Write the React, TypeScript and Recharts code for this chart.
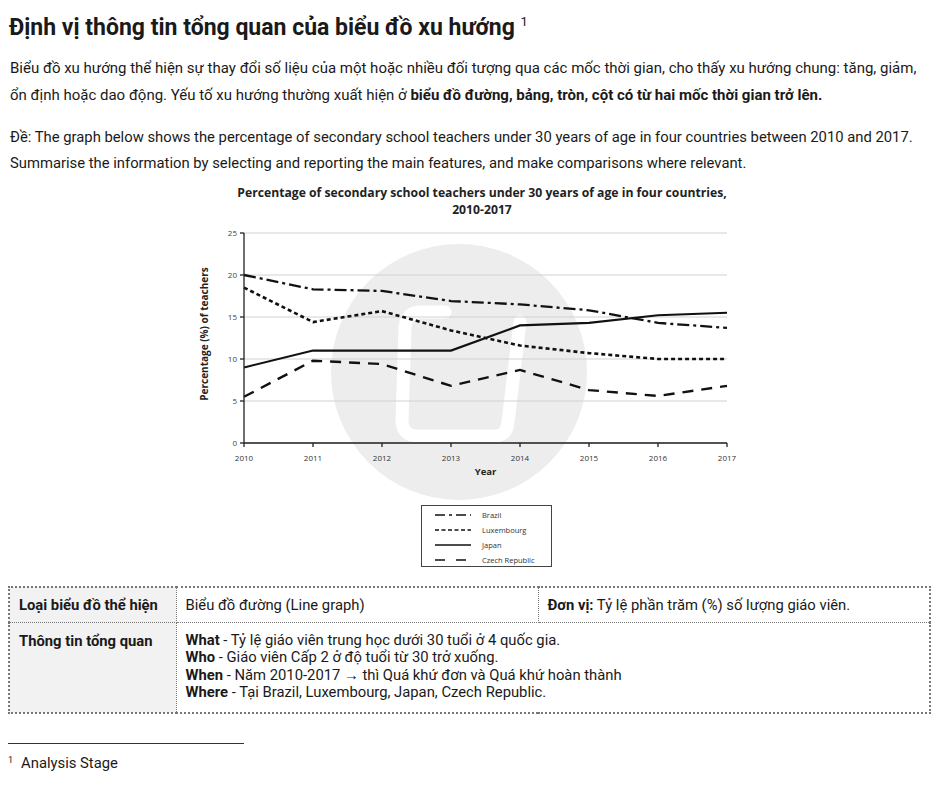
import React from 'react'
import {
  LineChart,
  Line,
  XAxis,
  YAxis,
  CartesianGrid,
  Legend
} from 'recharts'

// years and values
const years = ['2010', '2011', '2012', '2013', '2014', '2015', '2016', '2017']
const brazil = [20, 18.3, 18.1, 16.9, 16.5, 15.8, 14.3, 13.7]
const luxembourg = [18.5, 14.4, 15.7, 13.4, 11.6, 10.7, 10, 10]
const japan = [9, 11, 11, 11, 14, 14.3, 15.2, 15.5]
const czech = [5.5, 9.8, 9.4, 6.8, 8.7, 6.3, 5.6, 6.8]
const yTicks = [0, 5, 10, 15, 20, 25]

const seriesNames = ['Brazil', 'Luxembourg', 'Japan', 'Czech Republic']
const seriesValues = [brazil, luxembourg, japan, czech]
const dashes = ['12 4 3 4', '4 3', '0', '11 8']
const widths = [2.3, 2.6, 2.1, 2.4]

const data = years.map((year, i) => {
  const row: any = { year }
  seriesNames.forEach((name, s) => {
    row[name] = seriesValues[s][i]
  })
  return row
})

const chartFont = "'Open Sans', 'DejaVu Sans', sans-serif"

const LegendBox = () => (
  <div
    style={{
      border: '1px solid #444',
      width: 131,
      height: 62,
      boxSizing: 'border-box',
      padding: '1px 0 0 13px',
      background: '#fff',
      fontFamily: chartFont,
      fontSize: 7.5,
      color: '#333'
    }}
  >
    {seriesNames.map((name, i) => (
      <div key={name} style={{ display: 'flex', alignItems: 'center', height: 15.2 }}>
        <svg width={36} height={6}>
          <line
            x1={0}
            y1={3}
            x2={36}
            y2={3}
            stroke='#111'
            strokeWidth={i === 2 ? 1.3 : 1.6}
            strokeDasharray={i === 0 ? '10 4 3 4' : i === 1 ? '4 2.5' : i === 3 ? '10 11' : undefined}
          />
        </svg>
        <span style={{ marginLeft: 11 }}>{name}</span>
      </div>
    ))}
  </div>
)

const YLabel = (props: any) => {
  const vb = props.viewBox
  const x = 24
  const y = vb.y + vb.height / 2 - 4
  return (
    <text
      x={x}
      y={y}
      transform={`rotate(-90 ${x} ${y})`}
      textAnchor='middle'
      dominantBaseline='central'
      style={{ fontFamily: chartFont, fontSize: 10, fontWeight: 700, fill: '#222' }}
    >
      Percentage (%) of teachers
    </text>
  )
}

const cell = { border: '1px dotted #777', padding: '0 0 0 9px' }
const chartTitle = { position: 'absolute' as const, left: 182, width: 600, textAlign: 'center' as const, fontFamily: chartFont, fontSize: 12.2, fontWeight: 700, lineHeight: '14px', color: '#222', whiteSpace: 'nowrap' as const }

export default function App () {
  return (
    <div
      style={{
        position: 'absolute',
        left: 0,
        top: 0,
        width: 938,
        height: 791,
        background: '#fff',
        fontFamily: "Roboto, 'Noto Sans', sans-serif",
        color: '#1a1a1a',
        overflow: 'hidden'
      }}
    >
      <div style={{ position: 'absolute', left: 9, top: 6, fontSize: 23, fontWeight: 700, whiteSpace: 'nowrap', lineHeight: '32px' }}>
        Định vị thông tin tổng quan của biểu đồ xu hướng{' '}
        <sup style={{ fontSize: 13, fontWeight: 400, verticalAlign: 9 }}>1</sup>
      </div>

      <div style={{ position: 'absolute', left: 10, top: 55, fontSize: 15, lineHeight: '27px', whiteSpace: 'nowrap' }}>
        Biểu đồ xu hướng thể hiện sự thay đổi số liệu của một hoặc nhiều đối tượng qua các mốc thời gian, cho thấy xu hướng chung: tăng, giảm,
        <br />
        ổn định hoặc dao động. Yếu tố xu hướng thường xuất hiện ở{' '}
        <b>biểu đồ đường, bảng, tròn, cột có từ hai mốc thời gian trở lên.</b>
      </div>

      <div style={{ position: 'absolute', left: 10, top: 124, fontSize: 14.8, lineHeight: '26px', whiteSpace: 'nowrap' }}>
        Đề: The graph below shows the percentage of secondary school teachers under 30 years of age in four countries between 2010 and 2017.
        <br />
        Summarise the information by selecting and reporting the main features, and make comparisons where relevant.
      </div>

      {/* watermark behind the chart */}
      <svg style={{ position: 'absolute', left: 0, top: 0 }} width={938} height={791}>
        <circle cx={459} cy={372} r={128} fill='#ededed' />
        <path
          d='M 445 312 L 420 312 Q 406 312 405 328 L 402 420 Q 402 436 418 436 L 494 436 Q 507 436 508 422 L 520 322'
          fill='none'
          stroke='#fff'
          strokeWidth={13}
          strokeLinecap='round'
          strokeLinejoin='round'
        />
      </svg>

      <div style={{ ...chartTitle, top: 186 }}>
        Percentage of secondary school teachers under 30 years of age in four countries,
      </div>
      <div style={{ ...chartTitle, top: 203 }}>2010-2017</div>

      <div style={{ position: 'absolute', left: 180, top: 220 }}>
        <LineChart
          width={560}
          height={400}
          data={data}
          margin={{ top: 13, right: 13, bottom: 147, left: 14 }}
        >
          <CartesianGrid vertical={false} stroke='#d2d2d2' strokeWidth={1.2} />
          <XAxis
            dataKey='year'
            stroke='#222'
            strokeWidth={1.3}
            tickSize={4}
            tickMargin={8}
            height={30}
            tick={{ fontSize: 8, fill: '#333', fontFamily: chartFont }}
            label={{ value: 'Year', position: 'insideBottom', offset: -2, style: { fontSize: 9.5, fontWeight: 700, fill: '#222', fontFamily: chartFont } }}
          />
          <YAxis
            domain={[0, 25]}
            ticks={yTicks}
            width={50}
            stroke='#222'
            strokeWidth={1.3}
            tickSize={4}
            tickMargin={3}
            tick={{ fontSize: 8, fill: '#444', fontFamily: chartFont }}
            label={<YLabel />}
          />
          <Legend
            layout='horizontal'
            verticalAlign='middle'
            align='center'
            content={<LegendBox />}
            wrapperStyle={{ top: 285, left: 241, width: 131, height: 62 }}
          />
          {seriesNames.map((name, i) => (
            <Line
              key={name}
              dataKey={name}
              stroke='#111'
              strokeWidth={widths[i]}
              strokeDasharray={dashes[i] === '0' ? undefined : dashes[i]}
              dot={false}
              activeDot={false}
              isAnimationActive={false}
            />
          ))}
        </LineChart>
      </div>

      <table
        style={{
          position: 'absolute',
          left: 8,
          top: 586,
          width: 923,
          tableLayout: 'fixed',
          borderCollapse: 'collapse',
          fontSize: 14.8,
          border: '2px dotted #777'
        }}
      >
        <colgroup>
          <col style={{ width: 167 }} />
          <col style={{ width: 362 }} />
          <col />
        </colgroup>
        <tbody>
          <tr style={{ height: 35 }}>
            <td style={{ ...cell, background: '#f2f2f2', fontWeight: 700 }}>
              Loại biểu đồ thể hiện
            </td>
            <td style={cell}>Biểu đồ đường (Line graph)</td>
            <td style={cell}>
              <b>Đơn vị:</b> Tỷ lệ phần trăm (%) số lượng giáo viên.
            </td>
          </tr>
          <tr style={{ height: 91 }}>
            <td style={{ ...cell, padding: '9px 0 0 9px', background: '#f2f2f2', fontWeight: 700, verticalAlign: 'top' }}>
              Thông tin tổng quan
            </td>
            <td colSpan={2} style={{ ...cell, padding: '9px 0 0 9px', verticalAlign: 'top', lineHeight: '17.5px' }}>
              <b>What</b> - Tỷ lệ giáo viên trung học dưới 30 tuổi ở 4 quốc gia.
              <br />
              <b>Who</b> - Giáo viên Cấp 2 ở độ tuổi từ 30 trở xuống.
              <br />
              <b>When</b> - Năm 2010-2017 → thì Quá khứ đơn và Quá khứ hoàn thành
              <br />
              <b>Where</b> - Tại Brazil, Luxembourg, Japan, Czech Republic.
            </td>
          </tr>
        </tbody>
      </table>

      <div style={{ position: 'absolute', left: 8, top: 743, width: 236, height: 1, background: '#333' }} />
      <div style={{ position: 'absolute', left: 8, top: 754, fontSize: 14.8, whiteSpace: 'nowrap' }}>
        <sup style={{ fontSize: 9, verticalAlign: 5 }}>1</sup>
        <span style={{ marginLeft: 8 }}>Analysis Stage</span>
      </div>
    </div>
  )
}
